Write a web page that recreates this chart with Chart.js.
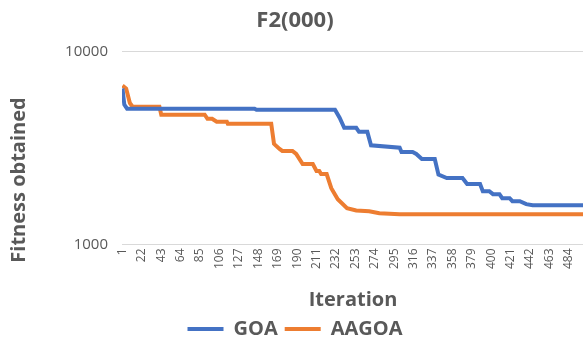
<!DOCTYPE html>
<html>
<head>
<meta charset="utf-8">
<script src="https://cdn.jsdelivr.net/npm/chart.js@4.4.1/dist/chart.umd.min.js"></script>
<style>
  body { margin: 0; overflow: hidden; background: #fff; }
  #wrap { width: 590px; height: 352px; }
</style>
</head>
<body>
<div id="wrap"><canvas id="myChart" width="590" height="352"></canvas></div>
<script>
// values at the points where each curve changes
var goaIter = [1, 3, 6, 144, 146, 231, 236, 241, 254, 257, 266, 270, 301, 303, 315, 319, 325, 339, 343, 352, 369, 374, 388, 391, 398, 402, 409, 412, 420, 423, 431, 438, 445, 500];
var goaFit = [6420, 5300, 5050, 5050, 4990, 4990, 4530, 4020, 4020, 3830, 3830, 3260, 3170, 3014, 3014, 2944, 2772, 2772, 2300, 2207, 2207, 2054, 2054, 1888, 1888, 1822, 1822, 1736, 1736, 1675, 1675, 1616, 1596, 1596];

var aagoaIter = [1, 5, 9, 12, 41, 43, 90, 93, 98, 103, 114, 115, 162, 165, 171, 174, 185, 189, 196, 207, 211, 214, 216, 222, 227, 234, 244, 254, 268, 279, 301, 500];
var aagoaFit = [6650, 6420, 5400, 5171, 5171, 4700, 4700, 4477, 4477, 4320, 4320, 4217, 4217, 3318, 3125, 3050, 3050, 2944, 2610, 2610, 2400, 2400, 2316, 2316, 1957, 1715, 1540, 1500, 1486, 1450, 1433, 1433];

var xTicks = [1, 22, 43, 64, 85, 106, 127, 148, 169, 190, 211, 232, 253, 274, 295, 316, 337, 358, 379, 400, 421, 442, 463, 484];
var yTicks = [1000, 10000];

var seriesNames = ["GOA", "AAGOA"];
var seriesColors = ["#4472C4", "#ED7D31"];

function toPoints(xs, ys){
    var pts = [];
    for(var i = 0; i < xs.length; i++){
        pts.push({x: xs[i], y: ys[i]});
    }
    return pts;
}

var grey = "#595959";

// y axis title drawn by hand so it can sit where the original has it
var yTitle = {
    id: "yTitle",
    afterDraw: function(chart){
        var ctx = chart.ctx;
        ctx.save();
        ctx.translate(19, 180);
        ctx.rotate(-Math.PI / 2);
        ctx.font = "bold 20px 'Open Sans'";
        ctx.fillStyle = grey;
        ctx.textAlign = "center";
        ctx.textBaseline = "middle";
        ctx.fillText("Fitness obtained", 0, 0);
        ctx.restore();
    }
};

var ctx = document.getElementById('myChart').getContext('2d');

var myChart = new Chart(ctx, {
    type: 'line',
    data: {
        datasets: [{
            label: seriesNames[0],
            data: toPoints(goaIter, goaFit),
            borderColor: seriesColors[0],
            backgroundColor: seriesColors[0],
            borderWidth: 4,
            pointRadius: 0,
            tension: 0
        }, {
            label: seriesNames[1],
            data: toPoints(aagoaIter, aagoaFit),
            borderColor: seriesColors[1],
            backgroundColor: seriesColors[1],
            borderWidth: 4,
            pointRadius: 0,
            tension: 0
        }]
    },
    options: {
        responsive: false,
        animation: false,
        layout: {
            padding: {left: 6, right: 6, top: 8, bottom: 3}
        },
        plugins: {
            title: {
                display: true,
                text: "F2(000)",
                color: grey,
                font: {family: "'Open Sans'", size: 22, weight: "bold"},
                padding: {top: 0, bottom: 17}
            },
            legend: {
                position: "bottom",
                labels: {
                    color: grey,
                    font: {family: "'Open Sans'", size: 20, weight: "bold"},
                    boxWidth: 36,
                    boxHeight: 4,
                    padding: 7,
                    generateLabels: function(chart){
                        var items = Chart.defaults.plugins.legend.labels.generateLabels(chart);
                        items.forEach(function(it){ it.lineWidth = 0; });
                        return items;
                    }
                }
            },
            tooltip: {enabled: false}
        },
        scales: {
            x: {
                type: "linear",
                min: 0.5,
                max: 500.5,
                afterBuildTicks: function(scale){
                    scale.ticks = xTicks.map(function(v){ return {value: v}; });
                },
                ticks: {
                    autoSkip: false,
                    minRotation: 90,
                    maxRotation: 90,
                    color: grey,
                    font: {family: "'Open Sans'", size: 12},
                    padding: 4,
                    callback: function(v){ return String(v); }
                },
                grid: {display: false, drawTicks: false},
                border: {display: true, color: "#d9d9d9"},
                title: {
                    display: true,
                    text: "Iteration",
                    color: grey,
                    font: {family: "'Open Sans'", size: 20, weight: "bold"},
                    padding: {top: 15, bottom: 0}
                }
            },
            y: {
                type: "logarithmic",
                min: 1000,
                max: 10000,
                afterBuildTicks: function(scale){
                    scale.ticks = yTicks.map(function(v){ return {value: v}; });
                },
                afterFit: function(scale){
                    scale.width = 116;
                },
                ticks: {
                    color: grey,
                    font: {family: "'Open Sans'", size: 15},
                    padding: 14,
                    callback: function(v){ return String(v); }
                },
                grid: {color: "#d9d9d9", drawTicks: false},
                border: {display: false}
            }
        }
    },
    plugins: [yTitle]
});
</script>
</body>
</html>
